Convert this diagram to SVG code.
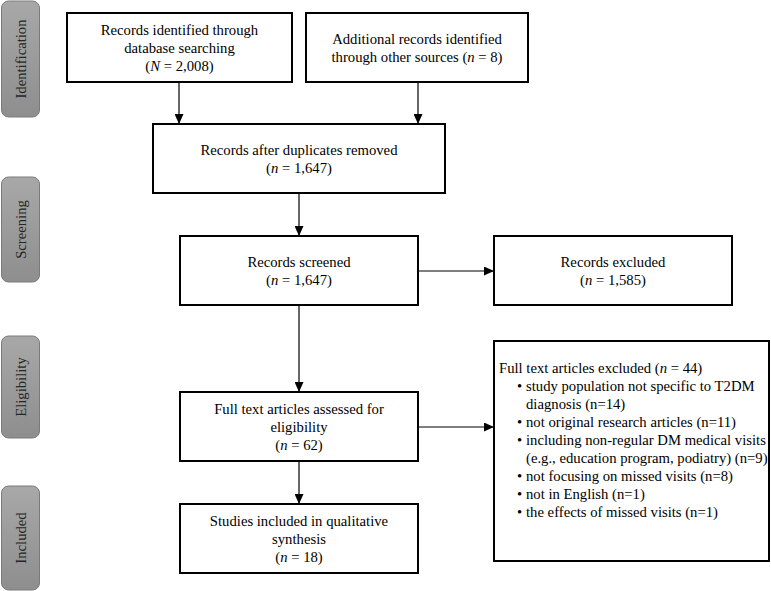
<svg xmlns="http://www.w3.org/2000/svg" width="771" height="591" viewBox="0 0 771 591">
<style>
  .box { fill: #ffffff; stroke: #000000; stroke-width: 2; }
  .t { font-family: "Liberation Serif", "Times New Roman", serif; font-size: 14.7px; fill: #000000; }
  .c { text-anchor: middle; }
  .side { fill: url(#sideGrad); stroke: #7a7a7a; stroke-width: 1; }
  .sideT { font-family: "Liberation Serif", "Times New Roman", serif; font-size: 14.7px; fill: #262626; text-anchor: middle; }
  .conn { stroke: #000000; stroke-width: 1.2; fill: none; marker-end: url(#arrow); }
  i, .it { font-style: italic; }
</style>
<defs>
  <linearGradient id="sideGrad" x1="0" y1="0" x2="0" y2="1">
    <stop offset="0" stop-color="#a8a8a8"/>
    <stop offset="1" stop-color="#8e8e8e"/>
  </linearGradient>
  <marker id="arrow" markerUnits="userSpaceOnUse" markerWidth="11" markerHeight="9" refX="10" refY="4.5" orient="auto">
    <path d="M0,0 L10,4.5 L0,9 z" fill="#000000"/>
  </marker>
</defs>
<rect width="771" height="591" fill="#ffffff"/>

<g id="phase-identification">
  <rect class="side" x="1.5" y="1" width="38" height="116" rx="7"/>
  <text class="sideT" transform="translate(26,59) rotate(-90)">Identification</text>
</g>
<g id="phase-screening">
  <rect class="side" x="1.5" y="177" width="38" height="105" rx="7"/>
  <text class="sideT" transform="translate(26,229.5) rotate(-90)">Screening</text>
</g>
<g id="phase-eligibility">
  <rect class="side" x="1.5" y="336" width="38" height="102" rx="7"/>
  <text class="sideT" transform="translate(26,387) rotate(-90)">Eligibility</text>
</g>
<g id="phase-included">
  <rect class="side" x="1.5" y="486" width="38" height="104" rx="7"/>
  <text class="sideT" transform="translate(26,538) rotate(-90)">Included</text>
</g>

<g id="connectors">
  <line class="conn" x1="179" y1="82" x2="179" y2="124"/>
  <line class="conn" x1="418" y1="82" x2="418" y2="124"/>
  <line class="conn" x1="299" y1="193" x2="299" y2="236"/>
  <line class="conn" x1="418" y1="271" x2="494" y2="271"/>
  <line class="conn" x1="299" y1="305" x2="299" y2="392"/>
  <line class="conn" x1="418" y1="427" x2="494" y2="427"/>
  <line class="conn" x1="299" y1="461" x2="299" y2="504"/>
</g>

<g id="node-database">
  <rect class="box" x="67" y="13" width="225" height="69"/>
  <text class="t c" x="179.5" y="34.5">Records identified through</text>
  <text class="t c" x="179.5" y="52.5">database searching</text>
  <text class="t c" x="179.5" y="70.5">(<tspan class="it">N</tspan> = 2,008)</text>
</g>
<g id="node-other-sources">
  <rect class="box" x="306" y="13" width="222" height="69"/>
  <text class="t c" x="417" y="43.5">Additional records identified</text>
  <text class="t c" x="417" y="61.5">through other sources (<tspan class="it">n</tspan> = 8)</text>
</g>
<g id="node-duplicates">
  <rect class="box" x="153" y="124" width="292" height="69"/>
  <text class="t c" x="299" y="155">Records after duplicates removed</text>
  <text class="t c" x="299" y="173">(<tspan class="it">n</tspan> = 1,647)</text>
</g>
<g id="node-screened">
  <rect class="box" x="180" y="236" width="238" height="69"/>
  <text class="t c" x="299" y="266.5">Records screened</text>
  <text class="t c" x="299" y="284.5">(<tspan class="it">n</tspan> = 1,647)</text>
</g>
<g id="node-excluded">
  <rect class="box" x="494" y="236" width="238" height="69"/>
  <text class="t c" x="613" y="266.5">Records excluded</text>
  <text class="t c" x="613" y="284.5">(<tspan class="it">n</tspan> = 1,585)</text>
</g>
<g id="node-fulltext">
  <rect class="box" x="180" y="392" width="238" height="69"/>
  <text class="t c" x="299" y="413.5">Full text articles assessed for</text>
  <text class="t c" x="299" y="431.5">eligibility</text>
  <text class="t c" x="299" y="449.5">(<tspan class="it">n</tspan> = 62)</text>
</g>
<g id="node-fulltext-excluded">
  <rect class="box" x="494" y="341" width="275" height="220"/>
  <text class="t" x="499" y="373">Full text articles excluded (<tspan class="it">n</tspan> = 44)</text>
  <text class="t" x="517" y="391">•</text>
  <text class="t" x="526" y="391">study population not specific to T2DM</text>
  <text class="t" x="526" y="409">diagnosis (n=14)</text>
  <text class="t" x="517" y="427">•</text>
  <text class="t" x="526" y="427">not original research articles (n=11)</text>
  <text class="t" x="517" y="445">•</text>
  <text class="t" x="526" y="445">including non-regular DM medical visits</text>
  <text class="t" x="526" y="463">(e.g., education program, podiatry) (n=9)</text>
  <text class="t" x="517" y="481">•</text>
  <text class="t" x="526" y="481">not focusing on missed visits (n=8)</text>
  <text class="t" x="517" y="499">•</text>
  <text class="t" x="526" y="499">not in English (n=1)</text>
  <text class="t" x="517" y="517">•</text>
  <text class="t" x="526" y="517">the effects of missed visits (n=1)</text>
</g>
<g id="node-included">
  <rect class="box" x="180" y="504" width="238" height="69"/>
  <text class="t c" x="299" y="525.5">Studies included in qualitative</text>
  <text class="t c" x="299" y="543.5">synthesis</text>
  <text class="t c" x="299" y="561.5">(<tspan class="it">n</tspan> = 18)</text>
</g>
</svg>
